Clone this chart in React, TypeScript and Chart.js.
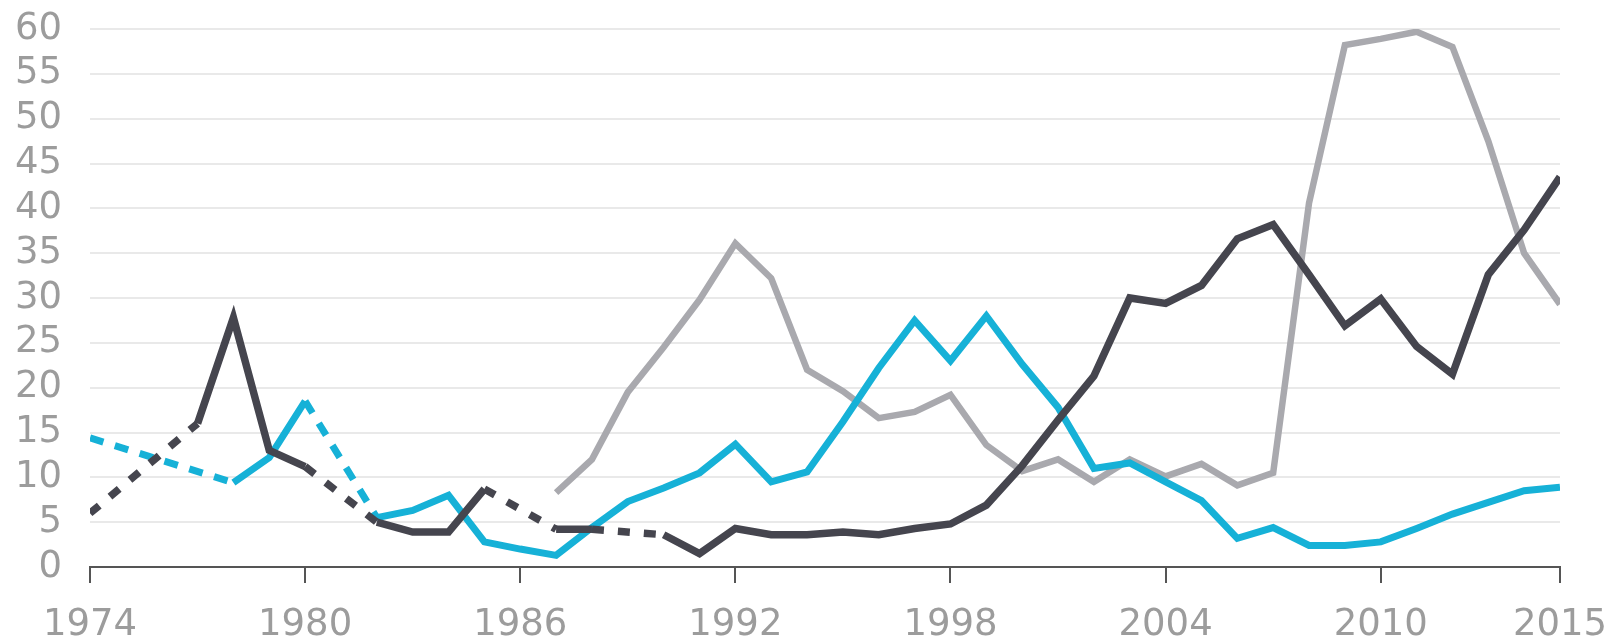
import React, { useEffect, useRef } from "react";
import { Chart, registerables } from "chart.js";

Chart.register(...registerables);

const years: number[] = [
  1974, 1975, 1976, 1977, 1978, 1979, 1980, 1981, 1982, 1983, 1984, 1985, 1986, 1987,
  1988, 1989, 1990, 1991, 1992, 1993, 1994, 1995, 1996, 1997, 1998, 1999, 2000, 2001,
  2002, 2003, 2004, 2005, 2006, 2007, 2008, 2009, 2010, 2011, 2012, 2013, 2014, 2015,
];

const xTickYears: number[] = [1974, 1980, 1986, 1992, 1998, 2004, 2010, 2015];

const darkSeries: (number | null)[] = [
  6.0, null, null, 16.0, 27.8, 13.0, 11.2, null, 5.0, 3.9, 3.9, 8.7, null, 4.2,
  4.2, null, 3.6, 1.5, 4.3, 3.6, 3.6, 3.9, 3.6, 4.3, 4.8, 6.9, 11.3, 16.4,
  21.3, 30.0, 29.4, 31.4, 36.6, 38.2, 32.6, 26.9, 29.9, 24.6, 21.5, 32.6, 37.6, 43.5,
];

const cyanSeries: (number | null)[] = [
  14.4, null, null, null, 9.4, 12.2, 18.5, null, 5.5, 6.3, 8.0, 2.8, 2.0, 1.3,
  4.4, 7.3, 8.8, 10.5, 13.7, 9.5, 10.6, 16.2, 22.2, 27.5, 23.0, 28.0, 22.6, 17.8,
  11.0, 11.6, 9.5, 7.4, 3.2, 4.4, 2.4, 2.4, 2.8, 4.3, 5.9, 7.2, 8.5, 8.9,
];

const graySeries: (number | null)[] = [
  null, null, null, null, null, null, null, null, null, null, null, null, null, 8.3,
  12.0, 19.5, 24.5, 29.8, 36.1, 32.2, 22.0, 19.6, 16.6, 17.3, 19.2, 13.6, 10.7, 12.0,
  9.5, 12.0, 10.1, 11.5, 9.1, 10.5, 40.6, 58.2, 58.9, 59.7, 58.0, 47.5, 35.0, 29.3,
];

const DARK = "#45454e";
const CYAN = "#16b1d7";
const GRAY = "#a9a9ae";
const LABEL = "#9c9c9c";

const gapDash = (dash: number[]) => (ctx: any) =>
  ctx.p0.skip || ctx.p1.skip ? dash : undefined;

export default function App() {
  const ref = useRef<HTMLCanvasElement | null>(null);

  useEffect(() => {
    if (!ref.current) return;
    const font = { family: "'DejaVu Sans', Verdana, sans-serif", size: 37 };
    const chart = new Chart(ref.current, {
      type: "line",
      data: {
        labels: years,
        datasets: [
          {
            label: "dark",
            data: darkSeries,
            borderColor: DARK,
            borderWidth: 7.5,
            pointRadius: 0,
            spanGaps: true,
            tension: 0,
            borderJoinStyle: "miter",
            order: 0,
            segment: { borderDash: gapDash([12, 14]) },
          },
          {
            label: "cyan",
            data: cyanSeries,
            borderColor: CYAN,
            borderWidth: 7,
            pointRadius: 0,
            spanGaps: true,
            tension: 0,
            borderJoinStyle: "miter",
            order: 1,
            segment: { borderDash: gapDash([14, 12]) },
          },
          {
            label: "gray",
            data: graySeries,
            borderColor: GRAY,
            borderWidth: 6.5,
            pointRadius: 0,
            spanGaps: true,
            tension: 0,
            borderJoinStyle: "miter",
            order: 2,
          },
        ],
      },
      options: {
        responsive: false,
        animation: false,
        layout: { padding: { top: 29, right: 50, left: 0, bottom: 0 } },
        plugins: { legend: { display: false }, tooltip: { enabled: false } },
        scales: {
          x: {
            type: "linear",
            min: 1974,
            max: 2015,
            afterBuildTicks: (scale: any) => {
              scale.ticks = xTickYears.map((v) => ({ value: v }));
            },
            afterFit: (scale: any) => {
              scale.height = 75;
              scale.paddingLeft = 0;
              scale.paddingRight = 0;
            },
            ticks: {
              color: LABEL,
              font,
              padding: 20,
              maxRotation: 0,
              autoSkip: false,
              callback: (v: any) => String(v),
            },
            grid: {
              display: true,
              drawOnChartArea: false,
              drawTicks: true,
              tickLength: 16,
              color: "#555555",
              lineWidth: 2,
            },
            border: { display: true, color: "#555555", width: 2 },
          },
          y: {
            min: 0,
            max: 60,
            afterFit: (scale: any) => {
              scale.width = 90;
              scale.paddingTop = 0;
              scale.paddingBottom = 0;
            },
            ticks: {
              stepSize: 5,
              autoSkip: false,
              color: LABEL,
              font,
              padding: 28,
            },
            grid: {
              color: (c: any) => (c.tick && c.tick.value === 0 ? "rgba(0,0,0,0)" : "#e9e9e9"),
              lineWidth: 2,
              drawTicks: false,
            },
            border: { display: false },
          },
        },
      },
    } as any);
    return () => chart.destroy();
  }, []);

  return (
    <div style={{ position: "absolute", left: 0, top: 0, width: 1610, height: 642, background: "#fff" }}>
      <canvas ref={ref} width={1610} height={642} style={{ display: "block" }} />
    </div>
  );
}
